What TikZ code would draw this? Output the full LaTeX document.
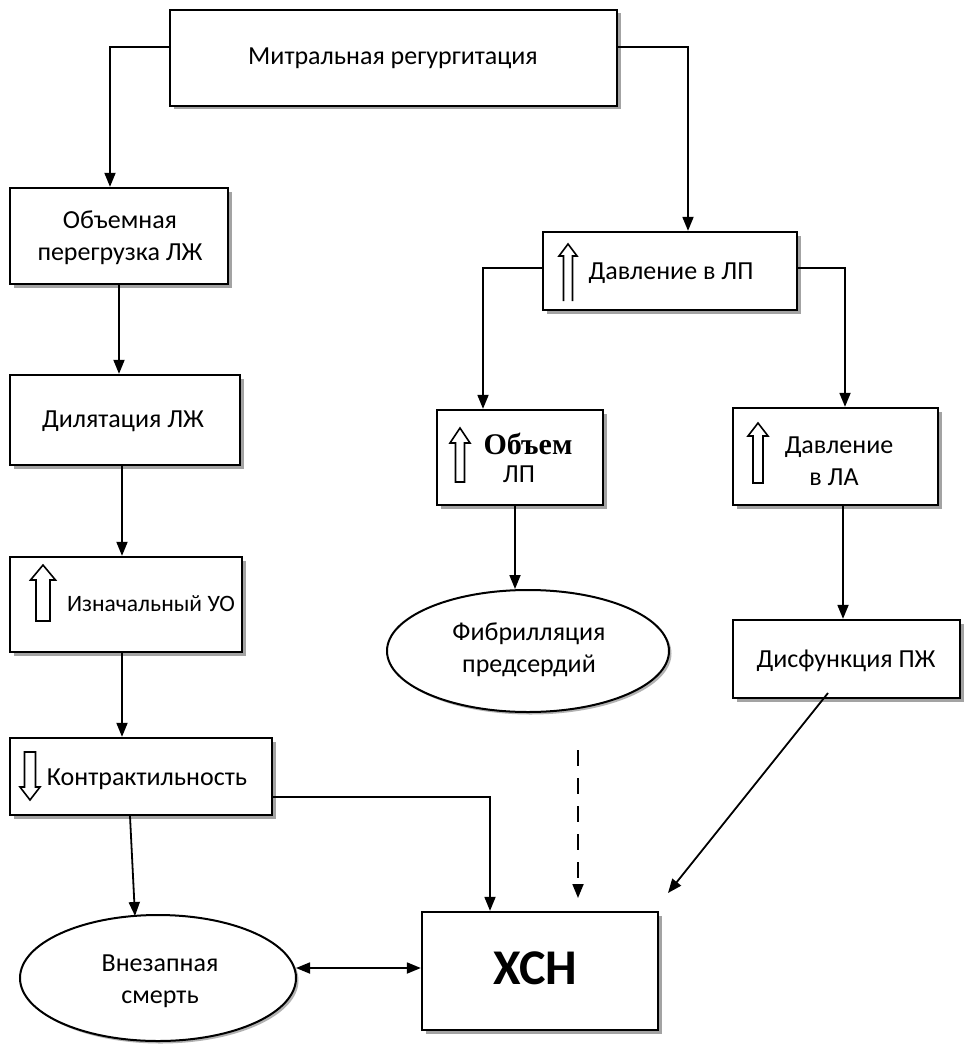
\documentclass[tikz,border=0pt]{standalone}
\usepackage{fontspec}
\setmainfont{Carlito}
\newfontfamily\serifbold{Liberation Serif}
\usetikzlibrary{arrows.meta,shapes.geometric,shadows}
\newcommand\hollowup[6]{% cx, tip, headbase, bottom, headhalf, shafthalf
  \draw[hollow] ({#1-#6},#4) -- ({#1-#6},#3) -- ({#1-#5},#3) -- (#1,#2) -- ({#1+#5},#3) -- ({#1+#6},#3) -- ({#1+#6},#4) -- cycle;}
\begin{document}
\begin{tikzpicture}[x=1pt,y=-1pt,
  box/.style={draw,line width=2.3pt,fill=white,inner sep=0pt,
    drop shadow={shadow xshift=3.5pt,shadow yshift=-3.5pt,fill=black!60,opacity=0.6}},
  ell/.style={ellipse,draw,line width=2pt,fill=white,inner sep=0pt,
    drop shadow={shadow xshift=2.5pt,shadow yshift=-2.5pt,fill=black!60,opacity=0.5}},
  lbl/.style={font=\fontsize{26}{32}\selectfont,align=center,inner sep=0pt},
  conn/.style={line width=1.8pt},
  arr/.style={conn,-{Triangle[length=14pt,width=11pt]}},
  darr/.style={conn,{Triangle[length=14pt,width=11pt]}-{Triangle[length=14pt,width=11pt]}},
  hollow/.style={line width=1.6pt,fill=white,line join=miter},
]
\useasboundingbox (0,0) rectangle (971,1051);
\fill[white] (0,0) rectangle (971,1051);

% boxes
\node[box,minimum width=447pt,minimum height=96pt] (top) at (393.5,58) {};
\node[box,minimum width=218pt,minimum height=96pt] (over) at (119,236) {};
\node[box,minimum width=230pt,minimum height=90pt] (dil) at (125,420) {};
\node[box,minimum width=232pt,minimum height=95pt] (uo) at (126,604.5) {};
\node[box,minimum width=262pt,minimum height=77pt] (contr) at (141,776.5) {};
\node[box,minimum width=254pt,minimum height=78pt] (dlp) at (670,271) {};
\node[box,minimum width=166pt,minimum height=95pt] (vlp) at (520,457.5) {};
\node[box,minimum width=205pt,minimum height=97pt] (dla) at (835.5,456.5) {};
\node[box,minimum width=227pt,minimum height=78pt] (dpzh) at (846.5,659) {};
\node[box,minimum width=236pt,minimum height=118pt] (xsn) at (540,971) {};
\node[ell,minimum width=282pt,minimum height=122pt] (fib) at (528,651) {};
\node[ell,minimum width=276pt,minimum height=126pt] (death) at (158,978) {};

% texts
\node[lbl] (t-top) at (393,58) {Митральная регургитация};
\node[lbl] (t-over) at (120,238) {Объемная\\перегрузка ЛЖ};
\node[lbl] (t-dil) at (123,421) {Дилятация ЛЖ};
\node[lbl,font=\fontsize{23.5}{30}\selectfont] (t-uo) at (151,604) {Изначальный УО};
\node[lbl] (t-contr) at (147,779) {Контрактильность};
\node[lbl] (t-dlp) at (671,273) {Давление в ЛП};
\node[inner sep=0pt,font=\serifbold\bfseries\fontsize{30}{32}\selectfont] (t-vol) at (528,444) {Объем};
\node[lbl] (t-vlp) at (519,474) {ЛП};
\node[lbl] (t-dla1) at (839,447) {Давление};
\node[lbl] (t-dla2) at (834,477) {в ЛА};
\node[lbl] (t-fib) at (529,650) {Фибрилляция\\предсердий};
\node[lbl] (t-dpzh) at (846,661) {Дисфункция ПЖ};
\node[lbl] (t-death) at (160,981) {Внезапная\\смерть};
\node[inner sep=0pt,font=\bfseries\fontsize{50}{54}\selectfont] (t-xsn) at (535,968) {ХСН};

% hollow arrows
\hollowup{460}{428}{443}{482}{10}{4.5}
\hollowup{758}{423}{436}{483}{10}{5}
\hollowup{43}{565}{580}{621}{12.5}{7}
\hollowup{30}{800}{787}{752}{10}{5.5}
\draw[hollow,fill=none] (563.5,301) -- (563.5,256) -- (559,256) -- (568,244) -- (577,256) -- (572.5,256) -- (572.5,301);

% connectors
\draw[arr] (top.west |- 0,47) -| ([xshift=-9pt]over.north);
\draw[arr] (top.east |- 0,47) -| ([xshift=18pt]dlp.north);
\draw[arr] (over.south) -- (over.south |- dil.north);
\draw[arr] ([xshift=-3pt]dil.south) -- ([xshift=-3pt]dil.south |- uo.north);
\draw[arr] ([xshift=-4pt]uo.south) -- ([xshift=-4pt]uo.south |- contr.north);
\draw[arr] ([xshift=-11pt]contr.south) -- ([xshift=-23pt,yshift=-2pt]death.north);
\draw[arr] (contr.east |- 0,797) -| ([xshift=-50pt]xsn.north);
\draw[arr] (dlp.west |- 0,268) -| ([xshift=-37pt]vlp.north);
\draw[arr] (dlp.east |- 0,268) -| ([xshift=9.5pt]dla.north);
\draw[arr] ([xshift=-5pt]vlp.south) -- ([xshift=-5pt]vlp.south |- fib.north);
\draw[arr] ([xshift=7.5pt]dla.south) -- ([xshift=7.5pt]dla.south |- dpzh.north);
\coordinate (c-dp) at (828,693);
\coordinate (c-xs) at (668,893);
\draw[arr] (c-dp) -- (c-xs);
\coordinate (c-fb) at (578,750);
\coordinate (c-xd) at (578,898);
\draw[arr,dash pattern=on 16pt off 12pt] (c-fb) -- (c-xd);
\draw[darr] ([xshift=-1pt]death.east |- 0,968) -- (xsn.west |- 0,968);
\end{tikzpicture}
\end{document}
